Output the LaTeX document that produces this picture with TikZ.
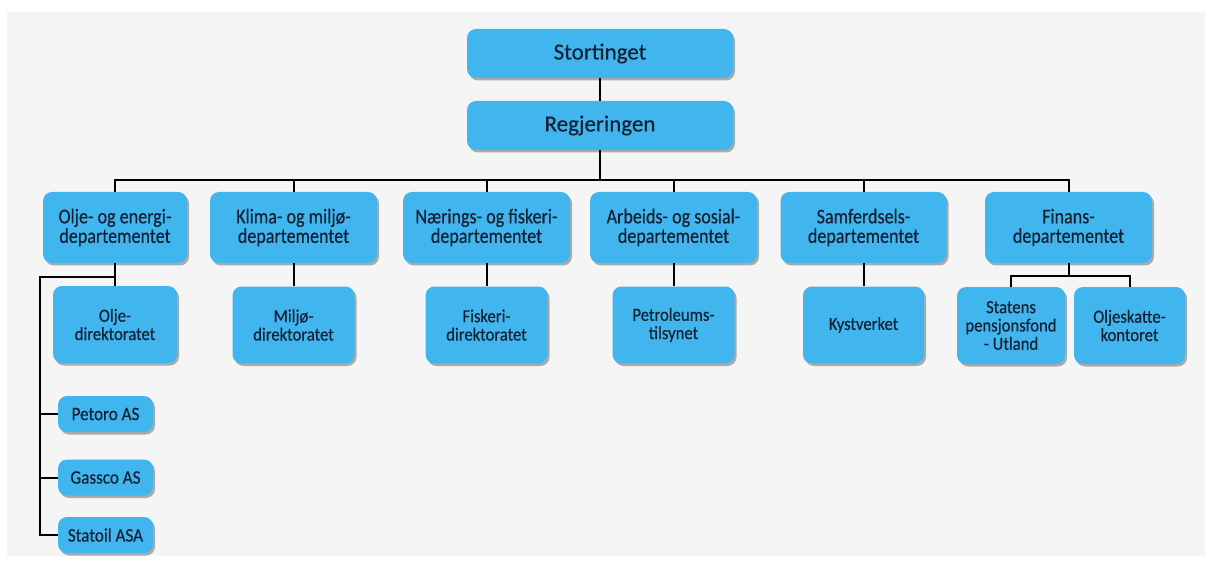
\documentclass[tikz,border=0pt]{standalone}
\usepackage{fontspec}
\setmainfont{Carlito}
\newfontfamily\topfont[FakeBold=0.3]{Carlito}
\newfontfamily\deptfont[FakeStretch=0.86,FakeBold=0.35]{Carlito}
\newfontfamily\subfont[FakeStretch=0.9,FakeBold=0.35]{Carlito}
\usetikzlibrary{shadows}
\definecolor{boxblue}{RGB}{65,182,238}
\definecolor{boxtext}{RGB}{22,32,52}
\definecolor{pagegray}{RGB}{245,245,245}
\begin{document}
\begin{tikzpicture}[x=1pt,y=-1pt,
  orgbox/.style={draw=none, fill=boxblue, rounded corners=9pt, align=center,
    text=boxtext, inner sep=0pt,
    drop shadow={shadow xshift=2pt, shadow yshift=-2.5pt, opacity=0.3, fill=black}},
  topbox/.style={orgbox, minimum width=266pt, minimum height=49pt,
    font=\topfont\fontsize{23}{25}\selectfont},
  deptbox/.style={orgbox, minimum width=167pt, minimum height=71pt,
    font=\deptfont\fontsize{21}{19.5}\selectfont},
  subbox/.style={orgbox, minimum height=77pt,
    font=\subfont\fontsize{18.5}{18.3}\selectfont},
  smallbox/.style={orgbox, minimum width=95pt, minimum height=36pt,
    font=\subfont\fontsize{19}{18}\selectfont},
  link/.style={draw=black, line width=2pt}]
\useasboundingbox (0,0) rectangle (1212,561);
\fill[white] (0,0) rectangle (1212,561);
\fill[pagegray] (7,12) rectangle (1205,556);

% top level
\node[topbox] (sting) at (600,53.5) {Stortinget};
\node[topbox] (reg) at (600,125.5) {Regjeringen};

% ministries
\node[deptbox, minimum width=144pt] (olje) at (115,227.5) {Olje- og energi-\\departementet};
\node[deptbox] (klima) at (293.5,227.5) {Klima- og miljø-\\departementet};
\node[deptbox] (naer) at (486.5,227.5) {Nærings- og fiskeri-\\departementet};
\node[deptbox] (arb) at (673.5,227.5) {Arbeids- og sosial-\\departementet};
\node[deptbox, minimum width=166pt] (samf) at (863.5,227.5) {Samferdsels-\\departementet};
\node[deptbox] (fin) at (1068.5,227.5) {Finans-\\departementet};

% directorates and agencies
\node[subbox, minimum width=124pt] (odir) at (115,324.5) {Olje-\\direktoratet};
\node[subbox, minimum width=122pt] (mdir) at (293.5,325) {Miljø-\\direktoratet};
\node[subbox, minimum width=122pt] (fdir) at (486.5,325) {Fiskeri-\\direktoratet};
\node[subbox, minimum width=122pt] (ptil) at (673.5,325) {Petroleums-\\tilsynet};
\node[subbox, minimum width=121pt] (kyst) at (863.5,325) {Kystverket};
\node[subbox, minimum width=108pt] (spu) at (1011,325.5) {Statens\\pensjonsfond\\- Utland};
\node[subbox, minimum width=111pt] (osk) at (1129.5,325.5) {Oljeskatte-\\kontoret};

% state companies
\node[smallbox] (petoro) at (105.5,414) {Petoro AS};
\node[smallbox] (gassco) at (105.5,477.5) {Gassco AS};
\node[smallbox] (statoil) at (105.5,535) {Statoil ASA};

% junction points
\coordinate (busR) at (1068.5,180);
\coordinate (oljeJ) at (40,277);
\coordinate (finJ) at (1068.5,276);

% connectors
\path[link] (sting.south) -- (reg.north);
\path[link] (reg.south) -- (reg.south |- busR);
\path[link] (olje.north) |- (busR) -- (fin.north);
\foreach \d in {klima,naer,arb,samf}
  \path[link] (\d.north) -- (\d.north |- busR);
\path[link] (olje.south) -- (odir.north);
\path[link] (olje.south |- oljeJ) -- (oljeJ) |- (statoil.west);
\path[link] (petoro.west) -- (petoro.west -| oljeJ);
\path[link] (gassco.west) -- (gassco.west -| oljeJ);
\foreach \a/\b in {klima/mdir,naer/fdir,arb/ptil,samf/kyst}
  \path[link] (\a.south) -- (\b.north);
\path[link] (fin.south) -- (finJ);
\path[link] (spu.north) -- (spu.north |- finJ) -- (osk.north |- finJ) -- (osk.north);
\end{tikzpicture}
\end{document}
